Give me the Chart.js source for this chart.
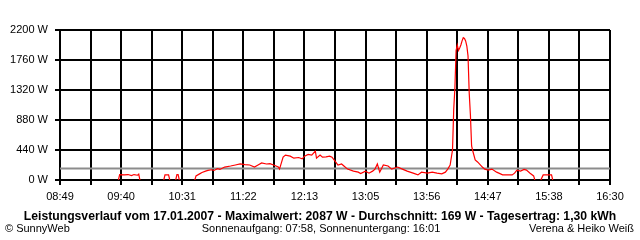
<!DOCTYPE html>
<html>
<head>
<meta charset="utf-8">
<script src="https://cdn.jsdelivr.net/npm/chart.js@4/dist/chart.umd.min.js"></script>
<style>
  html, body { margin: 0; padding: 0; background: #fff; }
  #wrap { position: relative; width: 640px; height: 240px; }
</style>
</head>
<body>
<div id="wrap"><canvas id="chart" width="640" height="240"></canvas></div>
<script>
// Messwerte (Uhrzeit / Leistung in W), null = Lücke
const times = [
  '09:38','09:39','09:43','09:46','09:49','09:51','09:54','09:55','09:56','10:00',
  '10:16','10:17','10:20','10:21','10:23',
  '10:26','10:27','10:28','10:29','10:35',
  '10:42','10:43','10:46','10:48','10:51','10:53','10:56','10:58','11:01','11:03',
  '11:07','11:12','11:16','11:20','11:24','11:28','11:32','11:35','11:38','11:42',
  '11:45','11:48','11:52','11:53','11:56','11:58','12:02','12:05','12:09','12:12',
  '12:14','12:17','12:20','12:23','12:24','12:27','12:29','12:32','12:35','12:37',
  '12:40','12:42','12:45','12:47','12:50','12:55','12:59','13:01','13:05','13:08',
  '13:11','13:13','13:15','13:17','13:20','13:24','13:27','13:32','13:36','13:40',
  '13:45','13:49','13:52','13:57','14:01','14:05','14:09','14:12','14:14','14:16',
  '14:18','14:19','14:20','14:21','14:22','14:23','14:24','14:25','14:26','14:27',
  '14:28','14:29','14:30','14:31','14:32','14:33','14:34','14:35','14:37','14:39',
  '14:43','14:45','14:48','14:51','14:55','15:00','15:04','15:08','15:10','15:12',
  '15:15','15:18','15:20','15:23','15:26','15:27','15:30',
  '15:32','15:34','15:37','15:41','15:42'
];
const power = [
  0, 80, 75, 80, 65, 80, 70, 85, 0, null,
  0, 75, 75, 0, null,
  0, 80, 80, 0, null,
  0, 60, 90, 110, 130, 140, 150, 140, 165, 155,
  190, 205, 220, 235, 225, 220, 190, 220, 250, 235,
  240, 220, 190, 160, 335, 365, 350, 320, 330, 310,
  350, 375, 365, 425, 320, 365, 335, 340, 350, 335,
  265, 220, 235, 205, 160, 130, 115, 95, 130, 100,
  130, 160, 235, 115, 220, 205, 160, 190, 160, 130,
  100, 75, 115, 100, 115, 100, 90, 115, 160, 220,
  440, 1030, 1350, 1900, 1980, 1900, 1935, 1980, 2040, 2087,
  2075, 2040, 1965, 1820, 1275, 955, 500, 425, 295, 265,
  190, 160, 145, 160, 115, 75, 75, 75, 100, 145,
  130, 155, 145, 100, 60, 0, null,
  0, 75, 75, 75, 0
];
const xLabels = ['08:49','09:40','10:31','11:22','12:13','13:05','13:56','14:47','15:38','16:30'];
const yTicks = [0, 440, 880, 1320, 1760, 2200];
const average = 169;
const title = 'Leistungsverlauf vom 17.01.2007 - Maximalwert: 2087 W - Durchschnitt: 169 W - Tagesertrag: 1,30 kWh';
const footLeft = '\u00A9 SunnyWeb';
const footMid = 'Sonnenaufgang: 07:58, Sonnenuntergang: 16:01';
const footRight = 'Verena & Heiko Wei\u00DF';

function toMin(s) {
  const p = s.split(':');
  return parseInt(p[0]) * 60 + parseInt(p[1]);
}

const xStart = toMin(xLabels[0]);
const xEnd = toMin(xLabels[xLabels.length - 1]);
const gridCount = (xLabels.length - 1) * 2;

const points = times.map((t, i) => ({ x: toMin(t), y: power[i] }));

// Texte unter dem Diagramm
const footerText = {
  id: 'footerText',
  afterDraw(chart) {
    const ctx = chart.ctx;
    ctx.save();
    ctx.fillStyle = '#000';
    ctx.textBaseline = 'middle';
    ctx.font = 'bold 12.2px "Liberation Sans", Arial, sans-serif';
    ctx.textAlign = 'center';
    ctx.fillText(title, 320, 217);
    ctx.font = '11px "Liberation Sans", Arial, sans-serif';
    ctx.textAlign = 'left';
    ctx.fillText(footLeft, 5, 229);
    ctx.textAlign = 'center';
    ctx.fillText(footMid, 321, 229);
    ctx.textAlign = 'right';
    ctx.fillText(footRight, 634, 229);
    ctx.restore();
  }
};

new Chart(document.getElementById('chart'), {
  type: 'line',
  data: {
    datasets: [
      {
        data: points,
        borderColor: '#ff0000',
        borderWidth: 1.2,
        pointRadius: 0,
        tension: 0,
        spanGaps: false
      },
      {
        data: [{ x: xStart, y: average }, { x: xEnd, y: average }],
        borderColor: '#8c8c8c',
        borderWidth: 2,
        pointRadius: 0
      }
    ]
  },
  options: {
    responsive: false,
    animation: false,
    layout: { padding: { top: 30, right: 30, left: 0, bottom: 0 } },
    plugins: {
      legend: { display: false },
      tooltip: { enabled: false }
    },
    scales: {
      x: {
        type: 'linear',
        min: xStart,
        max: xEnd,
        afterBuildTicks(scale) {
          const ticks = [];
          for (let i = 0; i <= gridCount; i++) {
            ticks.push({ value: xStart + i * (xEnd - xStart) / gridCount });
          }
          scale.ticks = ticks;
        },
        afterFit(scale) { scale.height = 60; },
        grid: { color: '#000', lineWidth: 2, tickLength: 5, drawTicks: true },
        border: { color: '#000', width: 2 },
        ticks: {
          autoSkip: false,
          maxRotation: 0,
          padding: 5,
          color: '#000',
          font: { family: '"Liberation Sans", Arial, sans-serif', size: 11 },
          callback: (v, i) => (i % 2 === 0 ? xLabels[i / 2] : '')
        }
      },
      y: {
        min: yTicks[0],
        max: yTicks[yTicks.length - 1],
        afterBuildTicks(scale) {
          scale.ticks = yTicks.map(v => ({ value: v }));
        },
        afterFit(scale) { scale.width = 60; },
        grid: { color: '#000', lineWidth: 2, tickLength: 5, drawTicks: true },
        border: { color: '#000', width: 2 },
        ticks: {
          padding: 7,
          color: '#000',
          font: { family: '"Liberation Sans", Arial, sans-serif', size: 11 },
          callback: v => v + ' W'
        }
      }
    }
  },
  plugins: [footerText]
});
</script>
</body>
</html>
